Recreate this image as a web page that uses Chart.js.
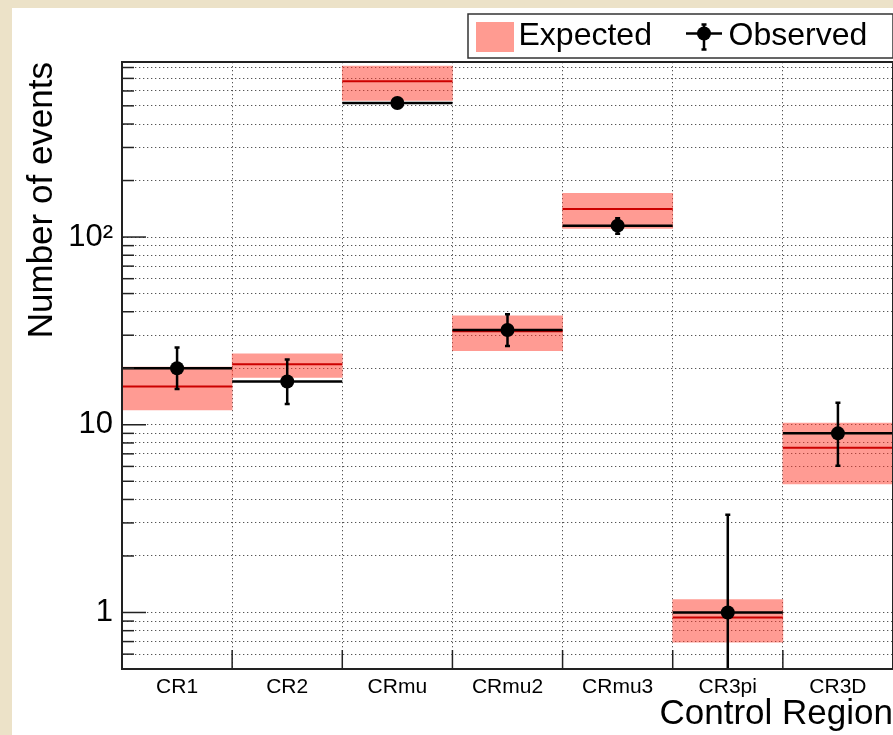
<!DOCTYPE html>
<html>
<head>
<meta charset="utf-8">
<script src="https://cdn.jsdelivr.net/npm/chart.js@4.4.1/dist/chart.umd.min.js"></script>
<style>
  html, body { margin: 0; padding: 0; }
  body { width: 893px; height: 735px; background: #ece2c8; overflow: hidden; position: relative; }
  #wrap { position: absolute; left: 12px; top: 8px; width: 888px; height: 727px; background: #fff; }
  #chart0 { display: block; }
</style>
</head>
<body>
<div id="wrap"><canvas id="chart0" width="888" height="727"></canvas></div>
<script>
const categories = ['CR1', 'CR2', 'CRmu', 'CRmu2', 'CRmu3', 'CR3pi', 'CR3D'];
const expected = [16, 21, 676, 31.5, 141, 0.94, 7.55];
const expectedLow = [12.0, 17.9, 535, 24.8, 111, 0.695, 4.84];
const expectedHigh = [20.3, 23.9, 815, 38.0, 171, 1.17, 10.2];
const observed = [20, 17, 518, 32, 115, 1, 9];
const observedLow = [15.5, 12.9, 495, 26.3, 104, 0, 6.05];
const observedHigh = [25.8, 22.3, 541, 38.8, 126, 3.32, 13.1];
const yTicks = [0.6, 0.7, 0.8, 0.9, 1, 2, 3, 4, 5, 6, 7, 8, 9, 10, 20, 30, 40, 50, 60, 70, 80, 90,
  100, 200, 300, 400, 500, 600, 700, 800];
const yLabels = {1: '1', 10: '10', 100: '10²'};

const FONT = "'Liberation Sans', Arial, Helvetica, sans-serif";
Chart.defaults.font.family = FONT;
Chart.defaults.color = '#000';

const bandColor = 'rgba(255, 55, 40, 0.5)';
const swatchColor = '#ff9b91';

// half of one category width, so the horizontal lines span the whole bin
const halfBin = (chart) => chart.scales.x.width / categories.length / 2;

// ROOT-like decorations: error bars, inner ticks, frame and boxed legend
const rootStyle = {
  id: 'rootStyle',
  afterDatasetsDraw(chart) {
    const {ctx, chartArea: ca, scales: {x, y}} = chart;
    ctx.save();
    ctx.beginPath();
    ctx.rect(ca.left, ca.top, ca.width, ca.height);
    ctx.clip();
    ctx.strokeStyle = '#000';
    ctx.lineWidth = 2.5;
    observed.forEach((v, i) => {
      const px = x.getPixelForValue(i);
      const lo = y.getPixelForValue(Math.max(observedLow[i], y.min));
      const hi = y.getPixelForValue(observedHigh[i]);
      ctx.beginPath();
      ctx.moveTo(px, lo);
      ctx.lineTo(px, hi);
      ctx.moveTo(px - 2.5, hi);
      ctx.lineTo(px + 2.5, hi);
      if (observedLow[i] > y.min) {
        ctx.moveTo(px - 2.5, lo);
        ctx.lineTo(px + 2.5, lo);
      }
      ctx.stroke();
    });
    ctx.restore();
  },
  afterDraw(chart) {
    const {ctx, chartArea: ca, scales: {x, y}} = chart;
    ctx.save();
    ctx.strokeStyle = '#222';
    ctx.lineWidth = 1.5;
    // y ticks inside the frame
    y.ticks.forEach(t => {
      const py = y.getPixelForValue(t.value);
      const len = yLabels[t.value] ? 24 : 12;
      ctx.beginPath();
      ctx.moveTo(ca.left, py);
      ctx.lineTo(ca.left + len, py);
      ctx.stroke();
    });
    // x ticks at bin edges
    const step = x.getPixelForValue(1) - x.getPixelForValue(0);
    for (let i = 1; i < categories.length; i++) {
      const px = x.getPixelForValue(i) - step / 2;
      ctx.beginPath();
      ctx.moveTo(px, ca.bottom);
      ctx.lineTo(px, ca.bottom - 19);
      ctx.stroke();
    }
    ctx.lineWidth = 2;
    ctx.strokeRect(ca.left, ca.top, ca.width, ca.height);

    // legend box
    const w = 425, h = 44;
    const left = ca.right - w, top = ca.top - 4 - h;
    ctx.fillStyle = '#fff';
    ctx.fillRect(left, top, w, h);
    ctx.lineWidth = 1.5;
    ctx.strokeStyle = '#333';
    ctx.strokeRect(left, top, w, h);
    ctx.fillStyle = swatchColor;
    ctx.fillRect(left + 8, top + 8, 38, 30);
    const cx = left + 236, cy = top + 19.5;
    ctx.strokeStyle = '#000';
    ctx.lineWidth = 2.5;
    ctx.beginPath();
    ctx.moveTo(cx - 18, cy);
    ctx.lineTo(cx + 18, cy);
    ctx.moveTo(cx, cy - 9);
    ctx.lineTo(cx, cy + 16);
    ctx.moveTo(cx - 2.5, cy - 9);
    ctx.lineTo(cx + 2.5, cy - 9);
    ctx.moveTo(cx - 2.5, cy + 16);
    ctx.lineTo(cx + 2.5, cy + 16);
    ctx.stroke();
    ctx.fillStyle = '#000';
    ctx.beginPath();
    ctx.arc(cx, cy, 7, 0, Math.PI * 2);
    ctx.fill();
    ctx.font = '32px ' + FONT;
    ctx.textBaseline = 'alphabetic';
    ctx.textAlign = 'left';
    ctx.fillText('Expected', left + 50.5, top + 31);
    ctx.fillText('Observed', left + 260.5, top + 31);
    ctx.restore();
  }
};

const chart0 = document.getElementById('chart0');
const myChart0 = new Chart(chart0, {
  type: 'bar',
  data: {
    labels: categories,
    datasets: [
      {
        label: 'Expected band',
        data: expectedLow.map((lo, i) => [lo, expectedHigh[i]]),
        backgroundColor: bandColor,
        borderWidth: 0,
        barPercentage: 1,
        categoryPercentage: 1,
        order: 4
      },
      {
        type: 'line',
        label: 'Expected',
        data: expected,
        showLine: false,
        pointStyle: 'line',
        pointRadius: (c) => halfBin(c.chart),
        pointBorderColor: '#cc0000',
        pointBorderWidth: 2,
        order: 3
      },
      {
        type: 'line',
        label: 'Observed bin',
        data: observed,
        showLine: false,
        pointStyle: 'line',
        pointRadius: (c) => halfBin(c.chart),
        pointBorderColor: '#000',
        pointBorderWidth: 2.5,
        order: 2
      },
      {
        type: 'line',
        label: 'Observed',
        data: observed,
        showLine: false,
        pointStyle: 'circle',
        pointRadius: 7,
        pointBackgroundColor: '#000',
        pointBorderWidth: 0,
        order: 1
      }
    ]
  },
  options: {
    responsive: false,
    animation: false,
    events: [],
    layout: { padding: { top: 54, right: 1, left: 0, bottom: 0 } },
    plugins: {
      legend: { display: false },
      tooltip: { enabled: false }
    },
    scales: {
      x: {
        offset: true,
        afterFit: (s) => { s.height = 66; },
        grid: { offset: true, color: '#555', lineWidth: 1, drawTicks: false },
        border: { display: true, color: '#222', width: 2, dash: [1.3, 2.7] },
        ticks: { font: { size: 21 }, padding: 6, maxRotation: 0, autoSkip: false },
        title: {
          display: true, text: 'Control Region', align: 'end',
          font: { size: 35 }, padding: { top: 0, bottom: 0 }
        }
      },
      y: {
        type: 'logarithmic',
        min: 0.5,
        max: 856,
        bounds: 'data',
        afterFit: (s) => { s.width = 110; },
        afterBuildTicks: (s) => { s.ticks = yTicks.map(v => ({ value: v })); },
        grid: { color: '#555', lineWidth: 1, drawTicks: false },
        border: { display: true, color: '#222', width: 2, dash: [1.3, 2.7] },
        ticks: {
          font: { size: 31 }, padding: 9, autoSkip: false,
          callback: (v) => yLabels[v] || ''
        },
        title: {
          display: true, text: 'Number of events', align: 'end',
          font: { size: 35 }, padding: { top: 9, bottom: 0 }
        }
      }
    }
  },
  plugins: [rootStyle]
});
</script>
</body>
</html>
